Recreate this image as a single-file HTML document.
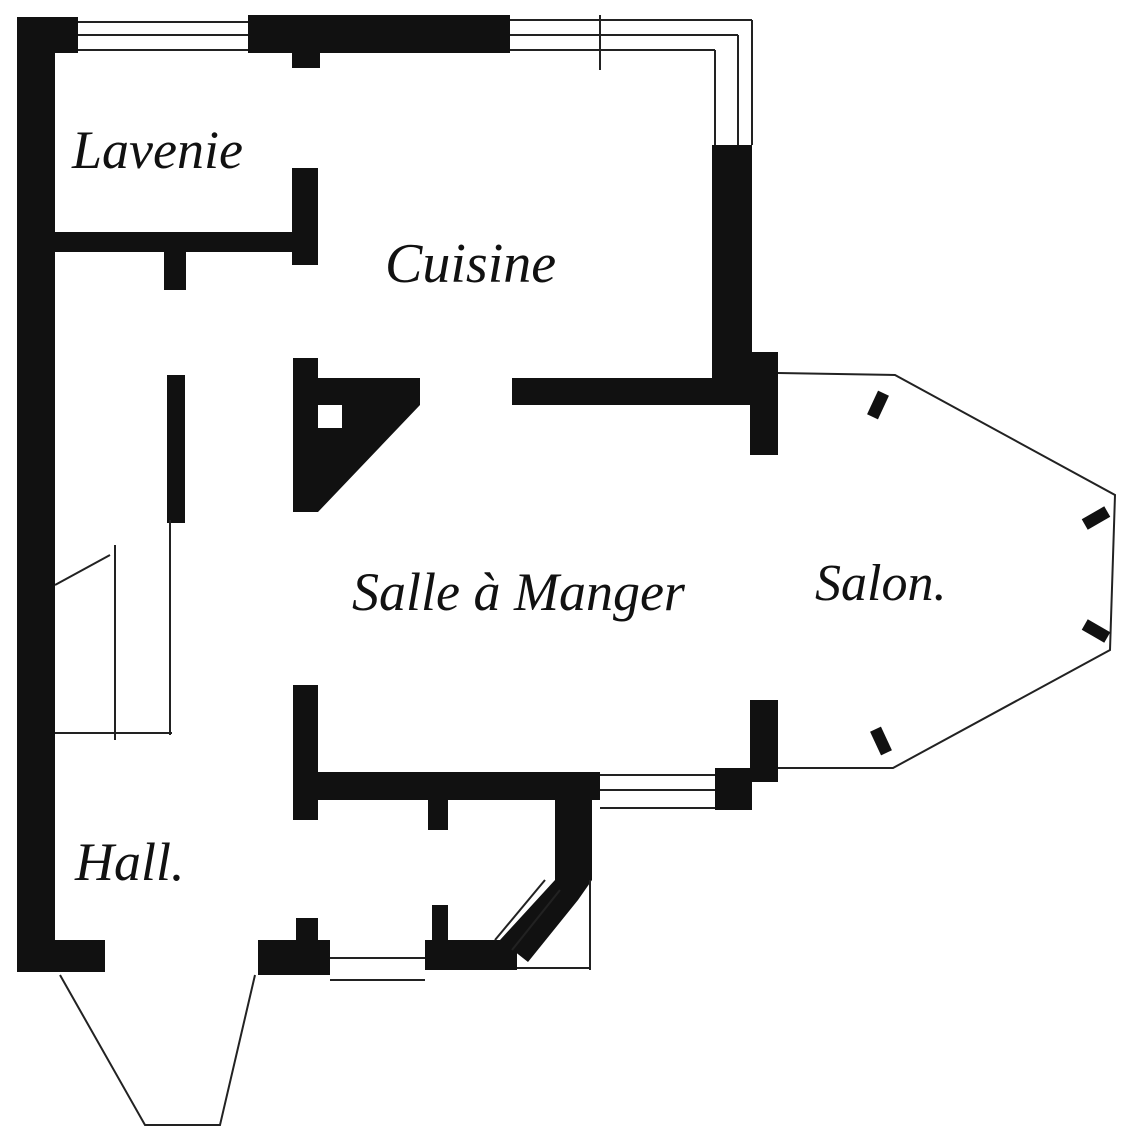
<!DOCTYPE html>
<html><head><meta charset="utf-8"><style>
html,body{margin:0;padding:0;background:#fff}
svg{display:block}
text{font-family:"Liberation Serif",serif;font-style:italic;fill:#111}
</style></head><body>
<svg width="1135" height="1144" viewBox="0 0 1135 1144" xmlns="http://www.w3.org/2000/svg">
<g fill="#111" stroke="none">
<rect x="17" y="17" width="38" height="955"/>
<rect x="17" y="940" width="88" height="32"/>
<rect x="50" y="17" width="28" height="36"/>
<rect x="248" y="15" width="262" height="38"/>
<rect x="292" y="50" width="28" height="18"/>
<rect x="712" y="145" width="40" height="245"/>
<rect x="512" y="378" width="240" height="27"/>
<rect x="750" y="352" width="28" height="103"/>
<rect x="55" y="232" width="245" height="20"/>
<rect x="292" y="168" width="26" height="97"/>
<rect x="164" y="250" width="22" height="40"/>
<path d="M293 358 L318 358 L318 378 L420 378 L420 405 L318 512 L293 512 Z"/>
<rect x="167" y="375" width="18" height="148"/>
<rect x="293" y="685" width="25" height="135"/>
<rect x="293" y="772" width="307" height="28"/>
<rect x="428" y="798" width="20" height="32"/>
<path d="M555 772 L592 772 L592 880 L578 900 L528 962 L500 940 L555 880 Z"/>
<rect x="425" y="940" width="92" height="30"/>
<rect x="432" y="905" width="16" height="38"/>
<rect x="258" y="940" width="72" height="35"/>
<rect x="296" y="918" width="22" height="24"/>
<rect x="715" y="768" width="37" height="42"/>
<rect x="750" y="700" width="28" height="82"/>
</g>
<rect x="318" y="405" width="24" height="23" fill="#fff"/>
<g fill="none" stroke="#222" stroke-width="2">
<line x1="78" y1="22" x2="248" y2="22"/><line x1="78" y1="35" x2="248" y2="35"/><line x1="78" y1="50" x2="248" y2="50"/>
<line x1="510" y1="20" x2="752" y2="20"/><line x1="510" y1="35" x2="738" y2="35"/><line x1="510" y1="50" x2="715" y2="50"/>
<line x1="752" y1="20" x2="752" y2="145"/><line x1="738" y1="35" x2="738" y2="145"/><line x1="715" y1="50" x2="715" y2="145"/>
<line x1="600" y1="15" x2="600" y2="70"/>
<line x1="115" y1="545" x2="115" y2="740"/><line x1="170" y1="520" x2="170" y2="735"/>
<line x1="55" y1="585" x2="110" y2="555"/><line x1="55" y1="733" x2="172" y2="733"/>
<line x1="600" y1="775" x2="715" y2="775"/><line x1="600" y1="790" x2="715" y2="790"/><line x1="600" y1="808" x2="715" y2="808"/>
<line x1="330" y1="958" x2="425" y2="958"/><line x1="330" y1="980" x2="425" y2="980"/>
<line x1="590" y1="880" x2="590" y2="970"/><line x1="517" y1="968" x2="590" y2="968"/>
<line x1="545" y1="880" x2="495" y2="940"/><line x1="560" y1="890" x2="512" y2="950"/>
<polyline points="778,373 895,375 1115,495 1110,650 893,768 778,768"/>
<polyline points="60,975 145,1125 220,1125 255,975"/>
</g>
<g fill="#111">
<rect x="872" y="392" width="12" height="26" transform="rotate(25 878 405)"/>
<rect x="1090" y="505" width="12" height="26" transform="rotate(60 1096 518)"/>
<rect x="1090" y="618" width="12" height="26" transform="rotate(-60 1096 631)"/>
<rect x="875" y="728" width="12" height="26" transform="rotate(-25 881 741)"/>
</g>
<text x="72" y="168" font-size="54">Lavenie</text>
<text x="385" y="282" font-size="56">Cuisine</text>
<text x="352" y="610" font-size="54">Salle à Manger</text>
<text x="815" y="600" font-size="52">Salon.</text>
<text x="75" y="880" font-size="54">Hall.</text>
</svg>
</body></html>
